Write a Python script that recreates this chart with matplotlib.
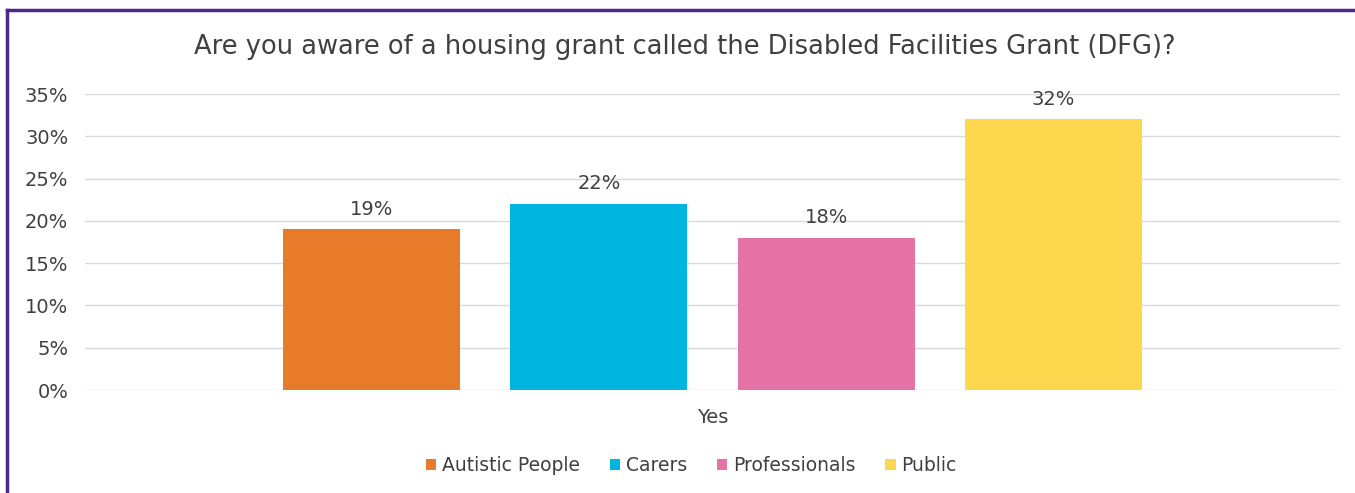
import matplotlib.pyplot as plt
from matplotlib.lines import Line2D
from matplotlib.ticker import PercentFormatter

categories = ['Yes']
groups = ['Autistic People', 'Carers', 'Professionals', 'Public']
values = [0.19, 0.22, 0.18, 0.32]
colors = ['#E87B2A', '#00B6E0', '#E673A5', '#FDD84F']

plt.rcParams['font.family'] = ['DejaVu Sans']
text_col = '#404040'

fig = plt.figure(figsize=(13.55, 4.93), dpi=100)
ax = fig.add_axes([0.0627, 0.2089, 0.9263, 0.6004])

width = 0.141
step = 0.181
for i, (g, v, c) in enumerate(zip(groups, values, colors)):
    x = (i - 1.5) * step
    ax.bar(x, v, width=width, color=c, label=g, zorder=2)
    ax.text(x, v + 0.0125, f'{round(v * 100)}%', ha='center', va='bottom',
            fontsize=14, color=text_col)

ax.set_xlim(-0.5, 0.5)
ax.set_ylim(0, 0.35)
ax.set_yticks([i * 0.05 for i in range(8)])
ax.yaxis.set_major_formatter(PercentFormatter(1.0, decimals=0))
ax.set_xticks([0])
ax.set_xticklabels(categories)
ax.tick_params(axis='both', length=0, labelsize=14, colors=text_col)
ax.tick_params(axis='x', pad=13)
ax.tick_params(axis='y', pad=12)
ax.grid(axis='y', color='#D9D9D9', linewidth=1, zorder=0)
for s in ax.spines.values():
    s.set_visible(False)

ax.set_title('Are you aware of a housing grant called the Disabled Facilities Grant (DFG)?',
             fontsize=18.5, color=text_col, pad=29, x=0.478)

leg = fig.legend(loc='center', bbox_to_anchor=(0.51, 0.055), ncol=4, frameon=False,
                 fontsize=13.5, handlelength=0.55, handleheight=0.55, handletextpad=0.3,
                 columnspacing=1.6, labelcolor=text_col)

# purple frame on left and top
fig.add_artist(Line2D([7 / 1355, 7 / 1355], [0, 1 - 10 / 493], color='#4B2A8C', linewidth=2.5))
fig.add_artist(Line2D([7 / 1355, 1], [1 - 10 / 493, 1 - 10 / 493], color='#4B2A8C', linewidth=2.5))

fig.savefig('out.png', dpi=100)
